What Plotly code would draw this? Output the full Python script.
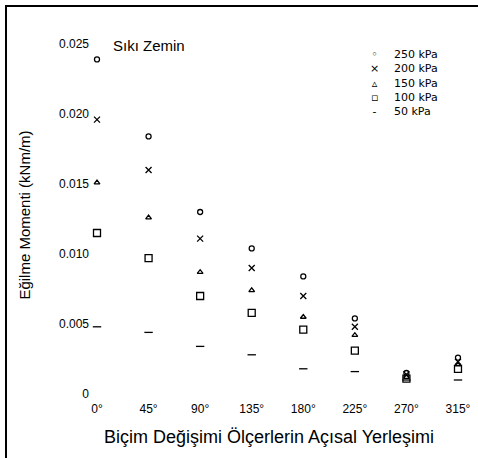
import plotly.graph_objects as go

categories = ["0°", "45°", "90°", "135°", "180°", "225°", "270°", "315°"]
series_names = ["250 kPa", "200 kPa", "150 kPa", "100 kPa", "50 kPa"]
p250 = [0.0239, 0.0184, 0.0130, 0.0104, 0.0084, 0.0054, 0.0015, 0.0026]
p200 = [0.0196, 0.0160, 0.0111, 0.0090, 0.0070, 0.0048, 0.0014, 0.0023]
p150 = [0.0151, 0.0126, 0.0087, 0.0074, 0.0055, 0.0042, 0.0012, 0.0021]
p100 = [0.0115, 0.0097, 0.0070, 0.0058, 0.0046, 0.0031, 0.0011, 0.0018]
p50 = [0.0048, 0.0044, 0.0034, 0.0028, 0.0018, 0.0016, 0.0010, 0.0010]
y_tickvals = [0, 0.005, 0.010, 0.015, 0.020, 0.025]
y_ticktext = ["0", "0.005", "0.010", "0.015", "0.020", "0.025"]

series = [p250, p200, p150, p100, p50]
symbols = ["circle-open", "x-thin-open", "triangle-up-open", "square-open", "line-ew-open"]
sizes = [5, 6, 5, 7, 6]
glyphs = ["◦", "×", "▵", "▫", "-"]

FONT = "Liberation Sans, Arial, sans-serif"
fig = go.Figure()
for name, vals, sym, sz in zip(series_names, series, symbols, sizes):
    fig.add_trace(go.Scatter(
        x=categories, y=vals, mode="markers", name=name,
        marker=dict(symbol=sym, size=sz, color="black",
                    line=dict(color="black", width=1.3)),
        showlegend=False,
    ))

# custom compact legend (one multi-line block for glyphs, one for labels)
fig.add_annotation(x=0.7345, y=0.858, xref="paper", yref="paper",
                   text="<br>".join(glyphs), align="center",
                   showarrow=False, xanchor="center", yanchor="middle",
                   font=dict(size=11, color="black", family="DejaVu Sans"))
fig.add_annotation(x=0.778, y=0.858, xref="paper", yref="paper",
                   text="<br>".join(series_names), align="left",
                   showarrow=False, xanchor="left", yanchor="middle",
                   font=dict(size=11, color="black", family="DejaVu Sans"))

fig.add_annotation(x=0.054, y=0.959, xref="paper", yref="paper", text="Sıkı Zemin",
                   showarrow=False, xanchor="left", yanchor="middle",
                   font=dict(size=15, color="black", family=FONT))

# x axis title
fig.add_annotation(x=0.461, y=-0.1, xref="paper", yref="paper",
                   text="Biçim Değişimi Ölçerlerin Açısal Yerleşimi",
                   showarrow=False, xanchor="center", yanchor="middle",
                   font=dict(size=18, color="black", family=FONT))

# outer frame (left and top edges visible)
fig.add_shape(type="rect", xref="paper", yref="paper",
              x0=-0.2165, x1=1.2, y0=-0.4, y1=1.0649,
              line=dict(color="black", width=2))

fig.update_layout(
    width=478, height=458,
    margin=dict(l=90, r=0, t=30, b=58),
    paper_bgcolor="white", plot_bgcolor="white",
    font=dict(family=FONT, size=12, color="black"),
    xaxis=dict(
        type="category", range=[-0.1357, 7.388],
        showgrid=False, zeroline=False, showline=False, ticks="",
        tickfont=dict(size=12),
    ),
    yaxis=dict(
        range=[-0.000429, 0.026],
        tickvals=y_tickvals, ticktext=y_ticktext,
        showgrid=False, zeroline=False, showline=False, ticks="",
        tickfont=dict(size=12),
        title=dict(text="Eğilme Momenti (kNm/m)", font=dict(size=15), standoff=24),
    ),
)

fig.write_html("out.html", config={"displayModeBar": False},
               post_script="document.body.style.margin='0';document.body.style.overflow='hidden';")
